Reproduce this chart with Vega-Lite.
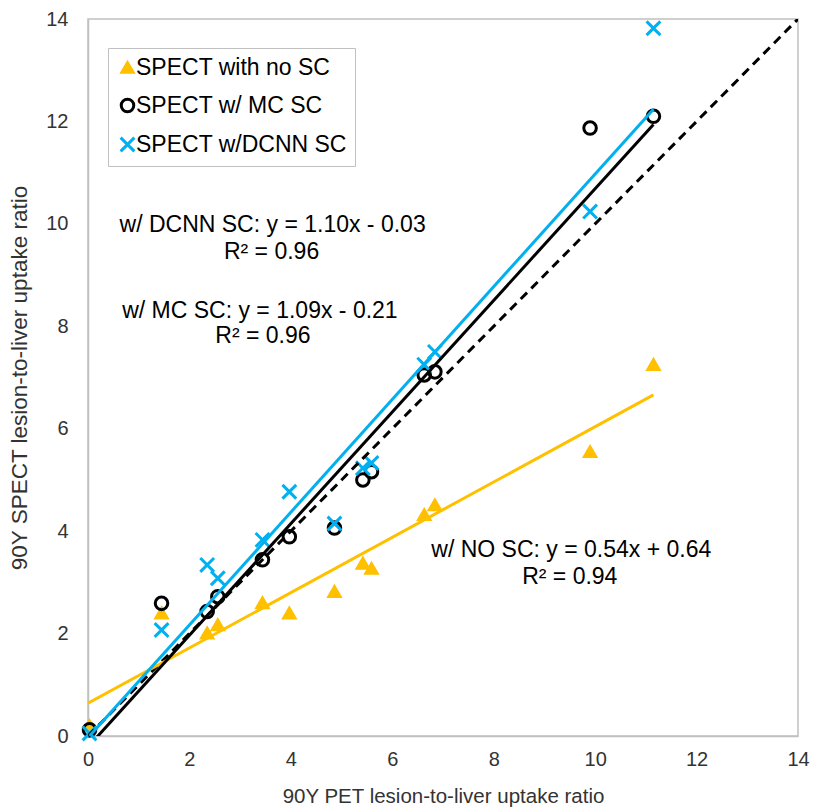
{
  "$schema": "https://vega.github.io/schema/vega-lite/v6.json",
  "width": 710,
  "height": 717,
  "autosize": {"type": "none"},
  "padding": {"left": 88, "top": 19, "right": 17, "bottom": 74},
  "background": "white",
  "config": {
    "font": "Liberation Sans",
    "view": {"stroke": "#c0c0c0", "strokeWidth": 1.5},
    "axis": {
      "grid": false,
      "ticks": false,
      "labelFlush": false,
      "domainColor": "#c0c0c0",
      "domainWidth": 1.5,
      "labelFont": "Liberation Sans",
      "labelFontSize": 20,
      "labelColor": "#333333",
      "titleFont": "Liberation Sans",
      "titleFontWeight": "normal",
      "titleColor": "#333333"
    }
  },
  "datasets": {
    "pts": [
      {"pet": 0.03, "spect": 0.2, "series": "SPECT with no SC"},
      {"pet": 1.45, "spect": 2.4, "series": "SPECT with no SC"},
      {"pet": 2.35, "spect": 2.01, "series": "SPECT with no SC"},
      {"pet": 2.56, "spect": 2.17, "series": "SPECT with no SC"},
      {"pet": 3.44, "spect": 2.6, "series": "SPECT with no SC"},
      {"pet": 3.97, "spect": 2.4, "series": "SPECT with no SC"},
      {"pet": 4.86, "spect": 2.82, "series": "SPECT with no SC"},
      {"pet": 5.42, "spect": 3.37, "series": "SPECT with no SC"},
      {"pet": 5.59, "spect": 3.27, "series": "SPECT with no SC"},
      {"pet": 6.63, "spect": 4.32, "series": "SPECT with no SC"},
      {"pet": 6.84, "spect": 4.51, "series": "SPECT with no SC"},
      {"pet": 9.9, "spect": 5.55, "series": "SPECT with no SC"},
      {"pet": 11.15, "spect": 7.25, "series": "SPECT with no SC"},
      {"pet": 0.03, "spect": 0.12, "series": "SPECT w/ MC SC"},
      {"pet": 1.45, "spect": 2.59, "series": "SPECT w/ MC SC"},
      {"pet": 2.35, "spect": 2.43, "series": "SPECT w/ MC SC"},
      {"pet": 2.56, "spect": 2.72, "series": "SPECT w/ MC SC"},
      {"pet": 3.44, "spect": 3.44, "series": "SPECT w/ MC SC"},
      {"pet": 3.97, "spect": 3.89, "series": "SPECT w/ MC SC"},
      {"pet": 4.86, "spect": 4.06, "series": "SPECT w/ MC SC"},
      {"pet": 5.42, "spect": 5.0, "series": "SPECT w/ MC SC"},
      {"pet": 5.59, "spect": 5.16, "series": "SPECT w/ MC SC"},
      {"pet": 6.63, "spect": 7.05, "series": "SPECT w/ MC SC"},
      {"pet": 6.84, "spect": 7.11, "series": "SPECT w/ MC SC"},
      {"pet": 9.9, "spect": 11.87, "series": "SPECT w/ MC SC"},
      {"pet": 11.15, "spect": 12.1, "series": "SPECT w/ MC SC"},
      {"pet": 0.03, "spect": 0.05, "series": "SPECT w/DCNN SC"},
      {"pet": 1.45, "spect": 2.07, "series": "SPECT w/DCNN SC"},
      {"pet": 2.35, "spect": 3.34, "series": "SPECT w/DCNN SC"},
      {"pet": 2.56, "spect": 3.08, "series": "SPECT w/DCNN SC"},
      {"pet": 3.44, "spect": 3.83, "series": "SPECT w/DCNN SC"},
      {"pet": 3.97, "spect": 4.77, "series": "SPECT w/DCNN SC"},
      {"pet": 4.86, "spect": 4.15, "series": "SPECT w/DCNN SC"},
      {"pet": 5.42, "spect": 5.23, "series": "SPECT w/DCNN SC"},
      {"pet": 5.59, "spect": 5.33, "series": "SPECT w/DCNN SC"},
      {"pet": 6.63, "spect": 7.25, "series": "SPECT w/DCNN SC"},
      {"pet": 6.84, "spect": 7.5, "series": "SPECT w/DCNN SC"},
      {"pet": 9.9, "spect": 10.24, "series": "SPECT w/DCNN SC"},
      {"pet": 11.15, "spect": 13.82, "series": "SPECT w/DCNN SC"}
    ],
    "lines": [
      {"line": "identity", "x": 0, "y": 0},
      {"line": "identity", "x": 14, "y": 14},
      {"line": "nosc", "x": 0, "y": 0.64},
      {"line": "nosc", "x": 11.15, "y": 6.66},
      {"line": "mc", "x": 0.03, "y": -0.18},
      {"line": "mc", "x": 11.15, "y": 11.94},
      {"line": "dcnn", "x": 0.03, "y": 0.0},
      {"line": "dcnn", "x": 11.15, "y": 12.24}
    ],
    "notes": [
      {"label": "w/ DCNN SC: y = 1.10x - 0.03", "x": 3.64, "y": 9.98},
      {"label": "R² = 0.96", "x": 3.62, "y": 9.45},
      {"label": "w/ MC SC: y = 1.09x - 0.21", "x": 3.39, "y": 8.3},
      {"label": "R² = 0.96", "x": 3.45, "y": 7.82},
      {"label": "w/ NO SC: y = 0.54x + 0.64", "x": 9.53, "y": 3.63},
      {"label": "R² = 0.94", "x": 9.5, "y": 3.1}
    ]
  },
  "layer": [
    {
      "data": {"name": "pts"},
      "mark": {"type": "point", "filled": false, "strokeWidth": 3, "opacity": 1},
      "encoding": {
        "x": {
          "field": "pet", "type": "quantitative",
          "scale": {"domain": [0, 14], "nice": false, "zero": false},
          "axis": {"values": [0, 2, 4, 6, 8, 10, 12, 14], "labelPadding": 13, "title": "90Y PET lesion-to-liver uptake ratio", "titleFontSize": 20.5, "titlePadding": 17}
        },
        "y": {
          "field": "spect", "type": "quantitative",
          "scale": {"domain": [0, 14], "nice": false, "zero": false},
          "axis": {"values": [0, 2, 4, 6, 8, 10, 12, 14], "labelPadding": 20, "title": "90Y SPECT lesion-to-liver uptake ratio", "titleFontSize": 22.5, "titlePadding": 14}
        },
        "color": {
          "field": "series", "type": "nominal",
          "scale": {"domain": ["SPECT with no SC", "SPECT w/ MC SC", "SPECT w/DCNN SC"], "range": ["#FFC000", "#000000", "#00B0F0"]},
          "legend": {
            "title": null, "orient": "none", "legendX": 20, "legendY": 29,
            "strokeColor": "#c0c0c0", "padding": 8, "labelFontSize": 23, "labelColor": "#000000",
            "labelFont": "Liberation Sans", "labelLimit": 0, "symbolSize": 110, "symbolStrokeWidth": 3,
            "rowPadding": 13, "labelOffset": -3, "fillColor": "white"
          }
        },
        "fill": {
          "field": "series", "type": "nominal",
          "scale": {"domain": ["SPECT with no SC", "SPECT w/ MC SC", "SPECT w/DCNN SC"], "range": ["#FFC000", "transparent", "transparent"]},
          "legend": {"title": null, "orient": "none", "legendX": 20, "legendY": 29}
        },
        "shape": {
          "field": "series", "type": "nominal",
          "scale": {"domain": ["SPECT with no SC", "SPECT w/ MC SC", "SPECT w/DCNN SC"], "range": ["triangle-up", "circle", "M-1,-1L1,1M-1,1L1,-1"]},
          "legend": {"title": null, "orient": "none", "legendX": 20, "legendY": 29}
        },
        "size": {
          "field": "series", "type": "nominal",
          "scale": {"domain": ["SPECT with no SC", "SPECT w/ MC SC", "SPECT w/DCNN SC"], "range": [125, 190, 190]},
          "legend": null
        }
      }
    },
    {
      "data": {"name": "lines"},
      "transform": [{"filter": "datum.line == 'identity'"}],
      "mark": {"type": "line", "color": "#000000", "strokeWidth": 3, "strokeDash": [9, 6], "clip": true},
      "encoding": {"x": {"field": "x", "type": "quantitative"}, "y": {"field": "y", "type": "quantitative"}}
    },
    {
      "data": {"name": "lines"},
      "transform": [{"filter": "datum.line == 'nosc'"}],
      "mark": {"type": "line", "color": "#FFC000", "strokeWidth": 3, "clip": true},
      "encoding": {"x": {"field": "x", "type": "quantitative"}, "y": {"field": "y", "type": "quantitative"}}
    },
    {
      "data": {"name": "lines"},
      "transform": [{"filter": "datum.line == 'mc'"}],
      "mark": {"type": "line", "color": "#000000", "strokeWidth": 3, "clip": true},
      "encoding": {"x": {"field": "x", "type": "quantitative"}, "y": {"field": "y", "type": "quantitative"}}
    },
    {
      "data": {"name": "lines"},
      "transform": [{"filter": "datum.line == 'dcnn'"}],
      "mark": {"type": "line", "color": "#00B0F0", "strokeWidth": 3, "clip": true},
      "encoding": {"x": {"field": "x", "type": "quantitative"}, "y": {"field": "y", "type": "quantitative"}}
    },
    {
      "data": {"name": "notes"},
      "mark": {"type": "text", "fontSize": 23, "color": "#000000", "align": "center", "baseline": "middle", "font": "Liberation Sans"},
      "encoding": {"x": {"field": "x", "type": "quantitative"}, "y": {"field": "y", "type": "quantitative"}, "text": {"field": "label"}}
    }
  ]
}
